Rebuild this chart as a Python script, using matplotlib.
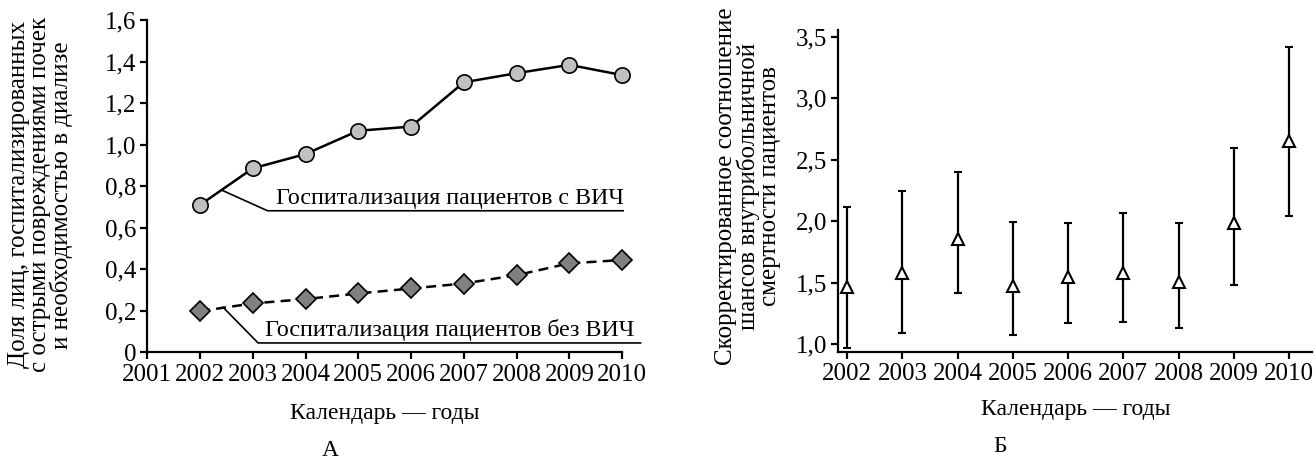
import matplotlib
matplotlib.use("Agg")
import matplotlib.pyplot as plt
from matplotlib.ticker import FuncFormatter

plt.rcParams['font.family'] = ['Liberation Serif', 'DejaVu Serif']

# ---- data: panel A ----
years_a = [2002, 2003, 2004, 2005, 2006, 2007, 2008, 2009, 2010]
hiv = [0.71, 0.886, 0.955, 1.067, 1.087, 1.30, 1.344, 1.384, 1.335]
no_hiv = [0.199, 0.236, 0.257, 0.284, 0.308, 0.332, 0.372, 0.429, 0.445]
xticks_a = list(range(2001, 2011))
yticks_a = [0, 0.2, 0.4, 0.6, 0.8, 1.0, 1.2, 1.4, 1.6]
label_hiv = "Госпитализация пациентов с ВИЧ"
label_nohiv = "Госпитализация пациентов без ВИЧ"

# ---- data: panel Б ----
years_b = [2002, 2003, 2004, 2005, 2006, 2007, 2008, 2009, 2010]
odds = [1.467, 1.576, 1.856, 1.475, 1.549, 1.576, 1.503, 1.989, 2.654]
ci_low = [0.97, 1.095, 1.418, 1.076, 1.171, 1.179, 1.13, 1.481, 2.046]
ci_high = [2.12, 2.25, 2.40, 1.997, 1.99, 2.07, 1.989, 2.597, 3.415]
yticks_b = [1.0, 1.5, 2.0, 2.5, 3.0, 3.5]

FS = 18
LFS = 18
comma = FuncFormatter(lambda v, p: "0" if abs(v) < 1e-9 else ("%.1f" % v).replace('.', ','))
comma1 = FuncFormatter(lambda v, p: ("%.1f" % v).replace('.', ','))

fig = plt.figure(figsize=(13.16, 4.68), dpi=100)

# ===== Panel A =====
ax = fig.add_axes([0.1119, 0.2468, 0.3608, 0.7105])
ax.plot(years_a, hiv, '-', color='black', lw=1.8, marker='o', ms=11,
        mfc='#c0c0c0', mec='black', mew=1.2, clip_on=False, zorder=3)
ax.plot(years_a, no_hiv, '--', color='black', lw=1.8, dashes=(4, 2.5), marker='D', ms=10,
        mfc='#808080', mec='black', mew=1.2, clip_on=False, zorder=3)
ax.set_xlim(2001, 2010)
ax.set_ylim(0, 1.6)
ax.set_xticks(xticks_a)
ax.set_yticks(yticks_a)
ax.yaxis.set_major_formatter(comma)
for s in ['top', 'right']:
    ax.spines[s].set_visible(False)
for s in ['left', 'bottom']:
    ax.spines[s].set_linewidth(1.6)
ax.tick_params(direction='out', length=5, width=1.6, labelsize=FS, pad=3)

# annotations
ax.plot([2002.44, 2003.28, 2010.02], [0.778, 0.682, 0.682], color='black', lw=1.2,
        clip_on=False)
ax.text(2003.44, 0.692, label_hiv, fontsize=17.3, ha='left', va='bottom')
ax.plot([2002.44, 2003.10, 2010.35], [0.217, 0.046, 0.046], color='black', lw=1.2,
        clip_on=False)
ax.text(2003.24, 0.056, label_nohiv, fontsize=17.3, ha='left', va='bottom')

ax.set_ylabel("Доля лиц, госпитализированных\nс острыми повреждениями почек\nи необходимостью в диализе",
              fontsize=LFS, linespacing=0.95, ha='center', va='center', multialignment='center')
ax.yaxis.set_label_coords(-0.225, 0.474)
ax.set_xlabel("Календарь — годы", fontsize=17, va='center')
ax.xaxis.set_label_coords(0.5, -0.182)

# ===== Panel Б =====
bx = fig.add_axes([0.637, 0.2485, 0.3602, 0.6874])
yerr = [[o - l for o, l in zip(odds, ci_low)], [h - o for o, h in zip(odds, ci_high)]]
bx.errorbar(years_b, odds, yerr=yerr, fmt='^', ms=9, mfc='white', mec='black', mew=1.5,
            ecolor='black', elinewidth=1.6, capsize=3, capthick=1.6, zorder=3)
bx.set_xlim(2001.84, 2010.42)
bx.set_ylim(0.94, 3.555)
bx.set_xticks(years_b)
bx.set_yticks(yticks_b)
bx.yaxis.set_major_formatter(comma1)
for s in ['top', 'right']:
    bx.spines[s].set_visible(False)
for s in ['left', 'bottom']:
    bx.spines[s].set_linewidth(1.6)
bx.tick_params(direction='out', length=5, width=1.6, labelsize=FS, pad=3)
bx.set_ylabel("Скорректированное соотношение\nшансов внутрибольничной\nсмертности пациентов",
              fontsize=LFS, linespacing=0.95, ha='center', va='center', multialignment='center')
bx.yaxis.set_label_coords(-0.19, 0.515)
bx.set_xlabel("Календарь — годы", fontsize=17, va='center')
bx.xaxis.set_label_coords(0.5, -0.181)

fig.text(330 / 1316, 1 - 450 / 468, "А", fontsize=17, ha='center', va='center')
fig.text(1000 / 1316, 1 - 447 / 468, "Б", fontsize=17, ha='center', va='center')

fig.savefig("out.png", dpi=100)
